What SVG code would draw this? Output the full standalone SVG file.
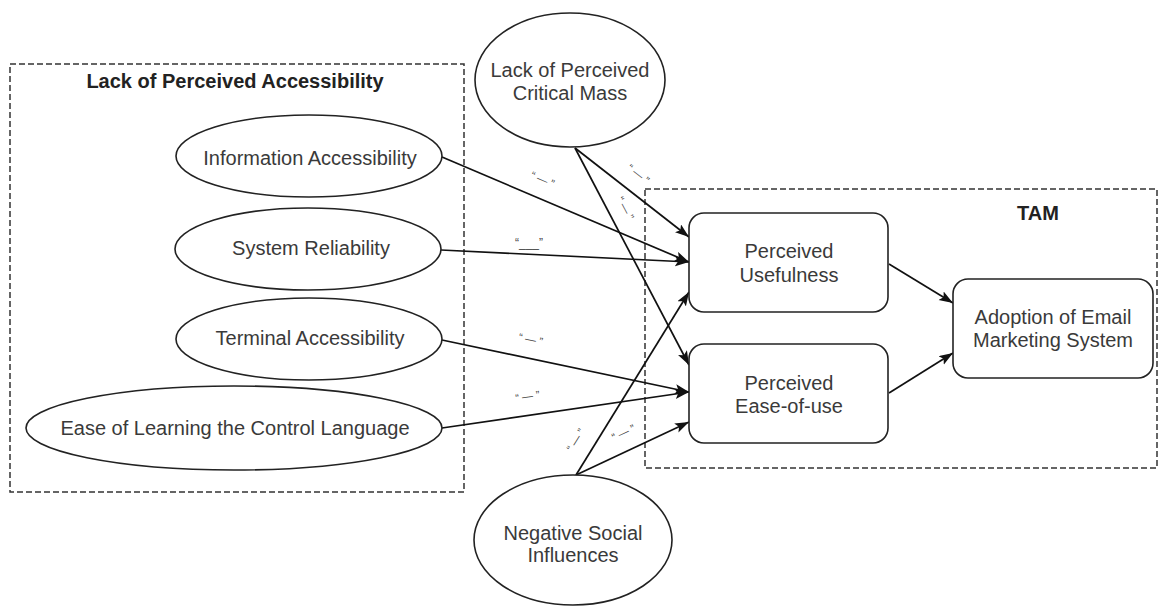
<svg xmlns="http://www.w3.org/2000/svg" width="1159" height="606" viewBox="0 0 1159 606">
  <style>
    .bg { fill: #ffffff; }
    .group-box { fill: none; stroke: #333; stroke-width: 1.5; stroke-dasharray: 6 3; }
    .group-title { font-family: "Liberation Sans", Arial, sans-serif; font-size: 20px; font-weight: bold; fill: #222; text-anchor: middle; }
    .shape { fill: #fff; stroke: #222; stroke-width: 1.6; }
    .label { font-family: "Liberation Sans", Arial, sans-serif; font-size: 20px; fill: #3a3a3a; text-anchor: middle; }
    .edge { fill: none; stroke: #111; stroke-width: 1.7; }
    .sign { font-family: "Liberation Sans", Arial, sans-serif; font-size: 11px; fill: #444; text-anchor: middle; }
  </style>
  <defs>
    <marker id="arrow" markerUnits="userSpaceOnUse" markerWidth="15" markerHeight="11" refX="14" refY="5" orient="auto">
      <path d="M0,0 L14,5 L0,10 L3,5 Z" fill="#111"/>
    </marker>
  </defs>

  <rect class="bg" x="0" y="0" width="1159" height="606"/>

  <!-- group frames -->
  <g id="group-accessibility">
    <rect class="group-box" x="10" y="64" width="454" height="428"/>
    <text class="group-title" x="235" y="88">Lack of Perceived Accessibility</text>
  </g>
  <g id="group-tam">
    <rect class="group-box" x="645" y="189" width="512" height="279"/>
    <text class="group-title" x="1038" y="220">TAM</text>
  </g>

  <!-- connectors -->
  <g id="connectors">
    <line class="edge" x1="575" y1="148" x2="689" y2="237" marker-end="url(#arrow)"/>
    <line class="edge" x1="575" y1="148" x2="689" y2="365" marker-end="url(#arrow)"/>
    <line class="edge" x1="442" y1="157" x2="689" y2="262" marker-end="url(#arrow)"/>
    <line class="edge" x1="441" y1="250" x2="689" y2="262" marker-end="url(#arrow)"/>
    <line class="edge" x1="442" y1="340" x2="689" y2="392" marker-end="url(#arrow)"/>
    <line class="edge" x1="442" y1="428" x2="689" y2="392" marker-end="url(#arrow)"/>
    <line class="edge" x1="576" y1="475" x2="689" y2="292" marker-end="url(#arrow)"/>
    <line class="edge" x1="576" y1="475" x2="689" y2="422" marker-end="url(#arrow)"/>
    <line class="edge" x1="889" y1="264" x2="953" y2="303" marker-end="url(#arrow)"/>
    <line class="edge" x1="889" y1="393" x2="953" y2="353" marker-end="url(#arrow)"/>

    <!-- negative-effect signs on the paths -->
    <text class="sign" transform="translate(541,183) rotate(23)">“ — ”</text>
    <text class="sign" style="font-size:12px" x="529" y="247">“___”</text>
    <text class="sign" transform="translate(636,177) rotate(38)">“ — ”</text>
    <text class="sign" transform="translate(622,210) rotate(62)">“ — ”</text>
    <text class="sign" transform="translate(530,343) rotate(12)">“ — ”</text>
    <text class="sign" transform="translate(528,400) rotate(-8)">“ — ”</text>
    <text class="sign" transform="translate(579,442) rotate(-58)">“ — ”</text>
    <text class="sign" transform="translate(625,436) rotate(-25)">“ — ”</text>
  </g>

  <!-- nodes -->
  <g id="node-critical-mass">
    <ellipse class="shape" cx="570" cy="80" rx="95" ry="67"/>
    <text class="label" x="570" y="77">Lack of Perceived</text>
    <text class="label" x="570" y="100">Critical Mass</text>
  </g>
  <g id="node-information-accessibility">
    <ellipse class="shape" cx="309" cy="156" rx="133" ry="41"/>
    <text class="label" x="310" y="165">Information Accessibility</text>
  </g>
  <g id="node-system-reliability">
    <ellipse class="shape" cx="308" cy="249" rx="133" ry="41"/>
    <text class="label" x="311" y="255">System Reliability</text>
  </g>
  <g id="node-terminal-accessibility">
    <ellipse class="shape" cx="309" cy="339" rx="133" ry="41"/>
    <text class="label" x="310" y="345">Terminal Accessibility</text>
  </g>
  <g id="node-ease-of-learning">
    <ellipse class="shape" cx="234" cy="428" rx="208" ry="42"/>
    <text class="label" x="235" y="435">Ease of Learning the Control Language</text>
  </g>
  <g id="node-negative-social">
    <ellipse class="shape" cx="573" cy="540" rx="99" ry="65"/>
    <text class="label" x="573" y="540">Negative Social</text>
    <text class="label" x="573" y="562">Influences</text>
  </g>
  <g id="node-perceived-usefulness">
    <rect class="shape" x="689" y="213" width="199" height="99" rx="15"/>
    <text class="label" x="789" y="258">Perceived</text>
    <text class="label" x="789" y="282">Usefulness</text>
  </g>
  <g id="node-perceived-ease">
    <rect class="shape" x="689" y="344" width="199" height="99" rx="15"/>
    <text class="label" x="789" y="390">Perceived</text>
    <text class="label" x="789" y="413">Ease-of-use</text>
  </g>
  <g id="node-adoption">
    <rect class="shape" x="953" y="279" width="200" height="99" rx="15"/>
    <text class="label" x="1053" y="324">Adoption of Email</text>
    <text class="label" x="1053" y="347">Marketing System</text>
  </g>
</svg>
